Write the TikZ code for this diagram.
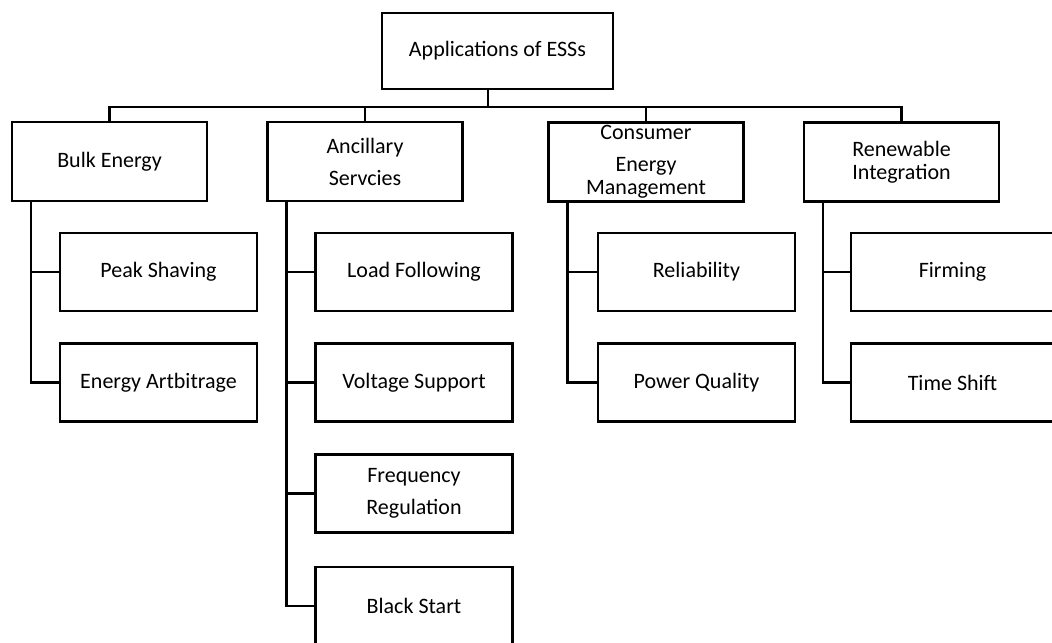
\documentclass[tikz,border=0pt]{standalone}
\usepackage{fontspec}
\setmainfont{Carlito}
\usepackage{tikz}

\begin{document}
\begin{tikzpicture}[x=0.5pt,y=-0.5pt,
  box/.style={draw,line width=1.1pt,minimum width=97.5pt,minimum height=39.5pt,inner sep=0pt,align=center,font=\fontsize{11}{16}\selectfont},
  sub/.style={box,minimum width=98.5pt,minimum height=39pt},
  link/.style={line width=1.1pt}]
\useasboundingbox (0,0) rectangle (1052,642);
\node[box,minimum width=115.5pt,minimum height=38pt] (root) at (497.5,51) {Applications of ESSs};
\node[box] (bulk) at (109.5,161.5) {Bulk Energy};
\node[box] (anc) at (365,161.5) {Ancillary\\Servcies};
\node[box,font=\fontsize{11}{11.5}\selectfont] (cons) at (646,162) {Consumer\\[4.5pt]Energy\\Management};
\node[box,font=\fontsize{11}{11.5}\selectfont] (ren) at (901.5,162) {Renewable\\Integration};

\node[sub] (peak) at (158.5,272) {Peak Shaving};
\node[sub] (arb) at (158.5,382.5) {Energy Artbitrage};
\node[sub] (load) at (414,272) {Load Following};
\node[sub] (volt) at (414,382.5) {Voltage Support};
\node[sub] (freq) at (414,493.5) {Frequency\\Regulation};
\node[sub] (black) at (414,606) {Black Start};
\node[sub] (rel) at (696.5,272) {Reliability};
\node[sub] (pq) at (696.5,382.5) {Power Quality};
\node[sub,minimum width=101.5pt] (firm) at (952.5,272) {Firming};
\node[sub,minimum width=101.5pt] (shift) at (952.5,382.5) {Time Shift};

\draw[link] ([xshift=-4.75pt]root.south) -- ++(0,17) coordinate (bus);
\draw[link] (bulk.north) |- (bus) -| (ren.north);
\draw[link] (anc.north) -- (anc.north |- bus);
\draw[link] (cons.north) -- (cons.north |- bus);

\foreach \c in {peak,arb}
  \draw[link] ([xshift=10pt]bulk.south west) |- (\c.west);
\foreach \c in {load,volt,freq,black}
  \draw[link] ([xshift=10pt]anc.south west) |- (\c.west);
\foreach \c in {rel,pq}
  \draw[link] ([xshift=10pt]cons.south west) |- (\c.west);
\foreach \c in {firm,shift}
  \draw[link] ([xshift=10pt]ren.south west) |- (\c.west);
\end{tikzpicture}
\end{document}
